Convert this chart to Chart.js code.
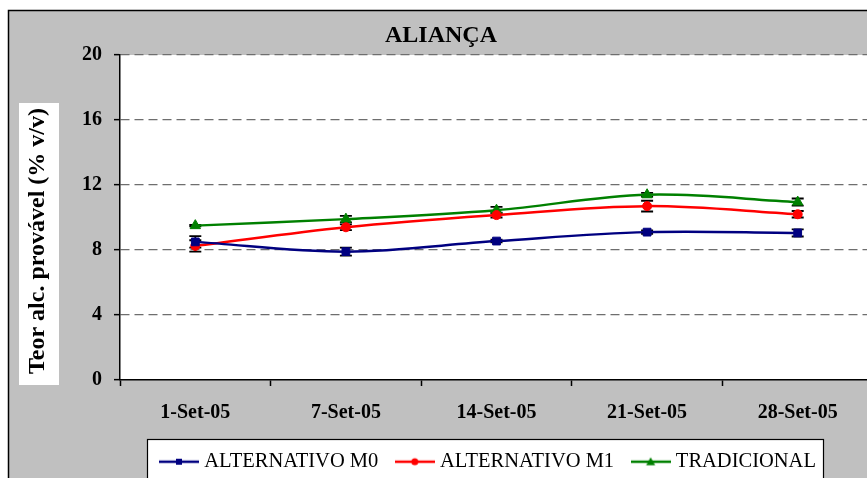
<!DOCTYPE html>
<html>
<head>
<meta charset="utf-8">
<script src="https://cdn.jsdelivr.net/npm/chart.js@4"></script>
<style>
  html, body { margin: 0; padding: 0; background: #fff; overflow: hidden; width: 867px; height: 478px; }
  canvas { position: absolute; left: 0; top: 0; }
</style>
</head>
<body>
<canvas id="c" width="880" height="482"></canvas>
<script>
// ---- data ----
const chartTitle = 'ALIANÇA';
const yAxisTitle = 'Teor alc. provável (% v/v)';
const dates = ['1-Set-05', '7-Set-05', '14-Set-05', '21-Set-05', '28-Set-05'];
const seriesNames = ['ALTERNATIVO M0', 'ALTERNATIVO M1', 'TRADICIONAL'];
const altM0 = [8.5, 7.9, 8.55, 9.1, 9.05];
const altM0Err = [0.35, 0.25, 0.08, 0.1, 0.22];
const altM1 = [8.25, 9.4, 10.15, 10.7, 10.2];
const altM1Err = [0.35, 0.18, 0.15, 0.33, 0.2];
const tradicional = [9.5, 9.9, 10.45, 11.4, 10.95];
const tradicionalErr = [0.05, 0.2, 0.2, 0.12, 0.22];
const yTicks = [0, 4, 8, 12, 16, 20];

const errors = [altM0Err, altM1Err, tradicionalErr];
const colors = ['#000080', '#ff0000', '#008000'];
const markers = ['rect', 'circle', 'triangle'];
const serif = "'Liberation Serif', 'Times New Roman', serif";
const legendStartX = 164;

// small line+marker swatch used as the legend symbol
function legendIcon(color, style) {
  const c = document.createElement('canvas');
  c.width = 40; c.height = 12;
  const g = c.getContext('2d');
  g.strokeStyle = color; g.lineWidth = 2.5;
  g.beginPath(); g.moveTo(0, 6); g.lineTo(40, 6); g.stroke();
  g.fillStyle = color;
  if (style === 'rect') {
    g.fillRect(17, 3, 6, 6);
  } else if (style === 'circle') {
    g.beginPath(); g.arc(20, 6, 3.5, 0, Math.PI * 2); g.fill();
  } else {
    g.beginPath(); g.moveTo(20, 1.5); g.lineTo(24.5, 9.5); g.lineTo(15.5, 9.5); g.closePath(); g.fill();
  }
  return c;
}
const icons = colors.map((c, i) => legendIcon(c, markers[i]));

// slide the legend row horizontally so it starts at legendStartX
const legendShift = {
  id: 'legendShift',
  afterUpdate(chart) {
    const lg = chart.legend;
    if (!lg || !lg.legendHitBoxes || !lg.legendHitBoxes.length) return;
    const dx = legendStartX - lg.legendHitBoxes[0].left;
    lg.left += dx;
    lg.right += dx;
    lg.legendHitBoxes.forEach(h => { h.left += dx; });
  }
};

// grey frame, white plot area, title, boxed y-axis title and legend frame
const framePlugin = {
  id: 'frame',
  beforeDraw(chart) {
    const { ctx, chartArea: a, width, height } = chart;
    ctx.save();
    ctx.fillStyle = '#fff';
    ctx.fillRect(0, 0, width, height);
    ctx.fillStyle = '#c0c0c0';
    ctx.fillRect(8, 10, width - 8, height - 10);
    ctx.strokeStyle = '#000';
    ctx.lineWidth = 1.5;
    ctx.beginPath();
    ctx.moveTo(8.5, height); ctx.lineTo(8.5, 10.5); ctx.lineTo(width, 10.5);
    ctx.stroke();
    ctx.fillStyle = '#fff';
    ctx.fillRect(a.left, a.top, a.right - a.left, a.bottom - a.top);

    ctx.fillStyle = '#000';
    ctx.font = 'bold 24px ' + serif;
    ctx.textAlign = 'center';
    ctx.textBaseline = 'alphabetic';
    ctx.fillText(chartTitle, 441, 42);

    ctx.fillStyle = '#fff';
    ctx.fillRect(19, 103, 40, 282);
    ctx.save();
    ctx.translate(44, 241);
    ctx.rotate(-Math.PI / 2);
    ctx.fillStyle = '#000';
    ctx.fillText(yAxisTitle, 0, 0);
    ctx.restore();

    const lg = chart.legend;
    const hb = lg && lg.legendHitBoxes;
    if (hb && hb.length) {
      const left = Math.round(hb[0].left - 17) + 0.5;
      const last = hb[hb.length - 1];
      const right = Math.round(last.left + last.width + 7) + 0.5;
      const top = Math.round(lg.top + 9) + 0.5;
      ctx.fillStyle = '#fff';
      ctx.fillRect(left, top, right - left, height - top + 5);
      ctx.strokeStyle = '#000';
      ctx.lineWidth = 1.2;
      ctx.strokeRect(left, top, right - left, height - top + 5);
    }
    ctx.restore();
  }
};

// vertical error bars with caps
const errorBarPlugin = {
  id: 'errorBars',
  beforeDatasetsDraw(chart) {
    const { ctx, scales: { x, y } } = chart;
    ctx.save();
    ctx.strokeStyle = '#000';
    ctx.lineWidth = 1.8;
    chart.data.datasets.forEach((ds, i) => {
      const err = errors[i];
      ds.data.forEach((v, j) => {
        const px = x.getPixelForValue(j);
        const t = y.getPixelForValue(v + err[j]);
        const b = y.getPixelForValue(v - err[j]);
        ctx.beginPath();
        ctx.moveTo(px, t); ctx.lineTo(px, b);
        ctx.moveTo(px - 6, t); ctx.lineTo(px + 6, t);
        ctx.moveTo(px - 6, b); ctx.lineTo(px + 6, b);
        ctx.stroke();
      });
    });
    ctx.restore();
  }
};

const seriesData = [altM0, altM1, tradicional];
const datasets = seriesData.map((d, i) => ({
  label: seriesNames[i],
  data: d,
  borderColor: colors[i],
  backgroundColor: colors[i],
  borderWidth: 2.5,
  tension: 0.35,
  pointStyle: markers[i],
  pointRadius: [5.5, 4.5, 6][i],
  pointBorderWidth: 1,
  pointBackgroundColor: colors[i],
  pointBorderColor: colors[i]
}));

new Chart(document.getElementById('c'), {
  type: 'line',
  data: { labels: dates, datasets },
  options: {
    responsive: false,
    animation: false,
    devicePixelRatio: 1,
    layout: { padding: { left: 50, top: 55, right: 0, bottom: 0 } },
    plugins: {
      title: { display: false },
      tooltip: { enabled: false },
      legend: {
        position: 'bottom',
        labels: {
          usePointStyle: true,
          pointStyleWidth: 30,
          padding: 21.5,
          color: '#000',
          font: { family: serif, size: 20.5, weight: 'normal' },
          generateLabels(chart) {
            const items = Chart.defaults.plugins.legend.labels.generateLabels(chart);
            items.forEach(it => { it.pointStyle = icons[it.datasetIndex]; });
            return items;
          }
        }
      }
    },
    scales: {
      x: {
        type: 'category',
        offset: true,
        grid: { offset: true, drawOnChartArea: false, drawTicks: true, tickLength: 6, tickColor: '#000', tickWidth: 1.5 },
        border: { color: '#000', width: 1.5 },
        ticks: { color: '#000', font: { family: serif, size: 20, weight: 'bold' }, padding: 15, maxRotation: 0, autoSkip: false },
        afterFit(s) { s.height = 50; }
      },
      y: {
        min: yTicks[0],
        max: yTicks[yTicks.length - 1],
        ticks: { stepSize: yTicks[1] - yTicks[0], color: '#000', font: { family: serif, size: 20, weight: 'bold' }, padding: 12 },
        grid: {
          color: c => (c.tick && c.tick.value === 0) ? 'rgba(0,0,0,0)' : '#6e6e6e',
          lineWidth: 1.3,
          tickLength: 6,
          tickColor: '#000',
          tickWidth: 1.5,
          tickBorderDash: []
        },
        border: { color: '#000', width: 1.5, dash: [9, 5] },
        afterFit(s) { s.width = 70; }
      }
    }
  },
  plugins: [legendShift, framePlugin, errorBarPlugin]
});
</script>
</body>
</html>
